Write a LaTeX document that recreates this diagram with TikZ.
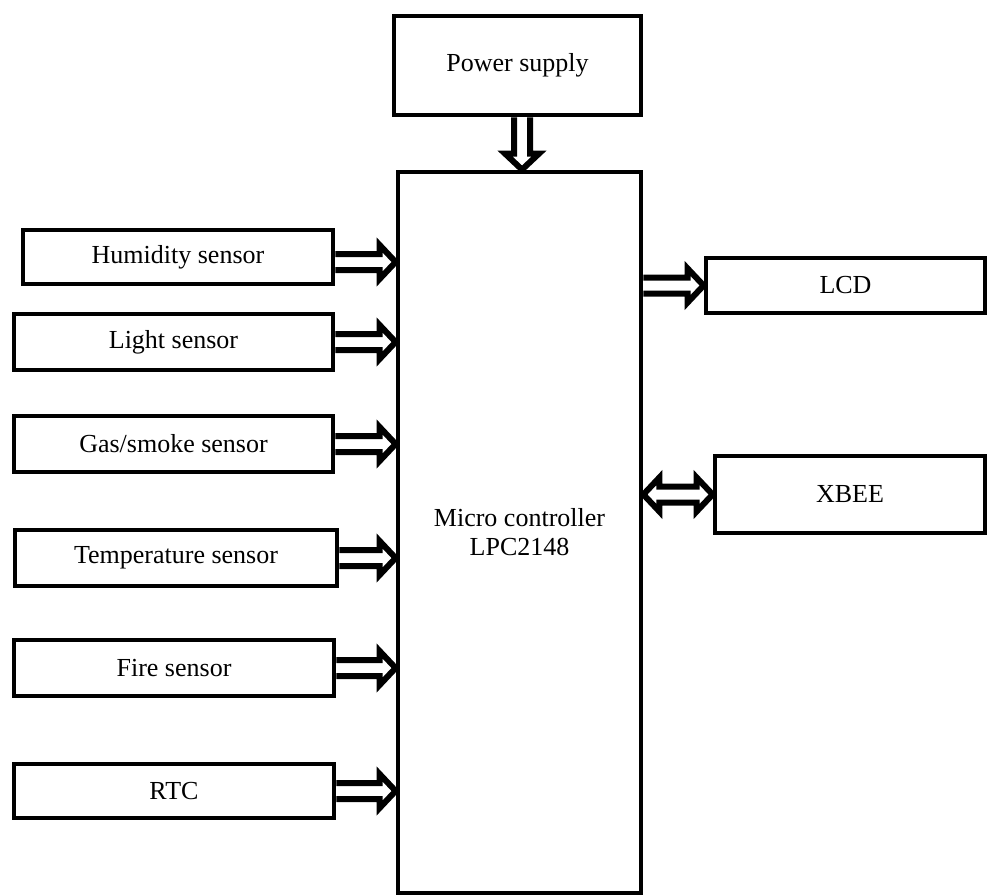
\documentclass[tikz,border=0pt]{standalone}
\usepackage{fontspec}
\setmainfont{Liberation Serif}
\usepackage{tikz}
\usetikzlibrary{positioning,calc}

% hollow block arrow from #1 to #2
\newcommand{\fatarrow}[2]{%
  \path #1 coordinate (fa-a) #2 coordinate (fa-b);
  \draw[fat] let \p1=($(fa-b)-(fa-a)$), \n1={veclen(\x1,\y1)}, \n2={atan2(\y1,\x1)} in
    [shift={(fa-a)}, rotate=\n2]
    (0pt,8pt) -- (\n1-16pt,8pt) -- (\n1-16pt,17pt) -- (\n1,0pt)
    -- (\n1-16pt,-17pt) -- (\n1-16pt,-8pt) -- (0pt,-8pt);
}
% same with a head at both ends
\newcommand{\fatdarrow}[2]{%
  \path #1 coordinate (fa-a) #2 coordinate (fa-b);
  \draw[fat] let \p1=($(fa-b)-(fa-a)$), \n1={veclen(\x1,\y1)}, \n2={atan2(\y1,\x1)} in
    [shift={(fa-a)}, rotate=\n2]
    (16pt,8pt) -- (\n1-16pt,8pt) -- (\n1-16pt,17pt) -- (\n1,0pt)
    -- (\n1-16pt,-17pt) -- (\n1-16pt,-8pt) -- (16pt,-8pt)
    -- (16pt,-17pt) -- (0pt,0pt) -- (16pt,17pt) -- cycle;
}

\begin{document}
\begin{tikzpicture}[
  x=1pt, y=-1pt,
  font=\fontsize{26}{29}\selectfont,
  block/.style={draw=black, line width=4.8pt, inner sep=0pt, align=center},
  sensor/.style={block, minimum width=320pt, minimum height=56pt},
  fat/.style={draw=black, fill=white, line width=6pt, line join=miter}
]
\useasboundingbox (0,0) rectangle (987,896);

% controller and supply
\node[block, minimum width=243pt, minimum height=721pt] (mc) at (519.5,532.5) {Micro controller\\LPC2148};
\node[block, minimum width=247pt, minimum height=99pt] (ps) at (517.5,65.5) {Power supply};

% sensors on the left
\node[sensor, minimum width=310pt, minimum height=54pt] (hum) at (178,257) {Humidity sensor};
\node[sensor, minimum width=319pt] (light) at (173.5,342) {Light sensor};
\node[sensor, minimum width=319pt] (gas) at (173.5,444) {Gas/smoke sensor};
\node[sensor, minimum width=322pt] (temp) at (176,558) {Temperature sensor};
\node[sensor] (fire) at (174,668) {Fire sensor};
\node[sensor, minimum height=54pt] (rtc) at (174,791) {RTC};

% outputs on the right
\node[block, minimum width=279pt, minimum height=55pt] (lcd) at (845.5,285.5) {LCD};
\node[block, minimum width=270pt, minimum height=77pt] (xbee) at (850,494.5) {XBEE};

% arrows
\coordinate (psout) at ([xshift=4.5pt]ps.south);
\coordinate (humout) at ([yshift=-5pt]hum.east);
\fatarrow{(psout)}{(psout |- mc.north)}
\fatarrow{(humout)}{(humout -| mc.west)}
\fatarrow{(light.east)}{(light.east -| mc.west)}
\fatarrow{(gas.east)}{(gas.east -| mc.west)}
\fatarrow{(temp.east)}{(temp.east -| mc.west)}
\fatarrow{(fire.east)}{(fire.east -| mc.west)}
\fatarrow{(rtc.east)}{(rtc.east -| mc.west)}
\fatarrow{(lcd.west -| mc.east)}{(lcd.west)}
\fatdarrow{(xbee.west -| mc.east)}{(xbee.west)}
\end{tikzpicture}
\end{document}
